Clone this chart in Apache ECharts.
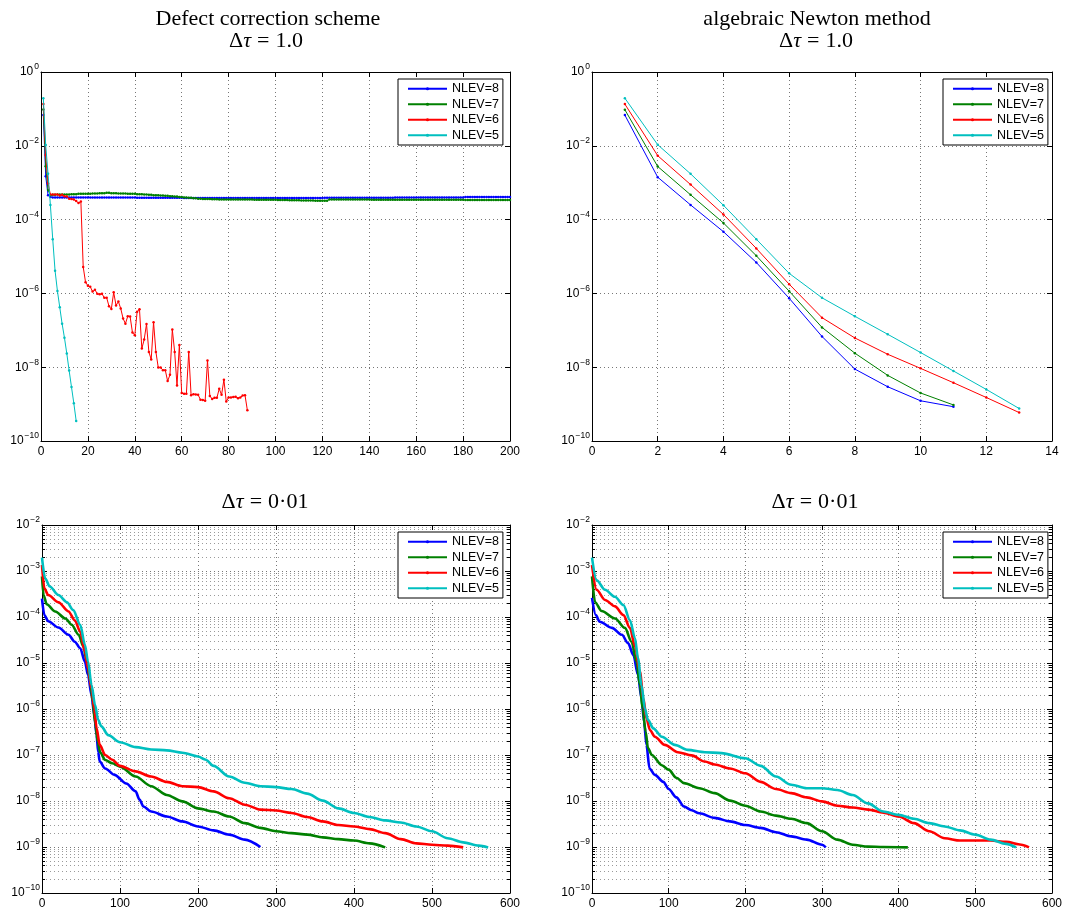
<!DOCTYPE html>
<html><head><meta charset="utf-8">
<script src="https://cdn.jsdelivr.net/npm/echarts@6/dist/echarts.min.js"></script>
<style>html,body{margin:0;padding:0;background:#fff}#c{width:1071px;height:911px}</style>
</head><body><div id="c"></div><script>
// ---------- names / colours ----------
const NAMES = ['NLEV=8', 'NLEV=7', 'NLEV=6', 'NLEV=5'];
const COLORS = ['#0000ff', '#008000', '#ff0000', '#00bfbf'];

// ---------- top-left: defect correction, dt = 1.0 (iteration 1..n) ----------
const tlBlue = [
6.8e-2,1.5e-3,4.6e-4,4.1e-4,4.0e-4,4.0e-4,4.0e-4,4.0e-4,4.0e-4,4.0e-4,
4.0e-4,4.0e-4,4.0e-4,4.0e-4,4.0e-4,4.0e-4,4.0e-4,4.0e-4,4.0e-4,4.0e-4,
3.95e-4,3.95e-4,3.95e-4,3.95e-4,3.95e-4,3.95e-4,3.95e-4,3.95e-4,3.95e-4,3.95e-4,
3.95e-4,3.95e-4,3.95e-4,3.95e-4,3.95e-4,3.95e-4,3.95e-4,3.95e-4,3.95e-4,3.95e-4,
3.9e-4,3.9e-4,3.9e-4,3.9e-4,3.9e-4,3.9e-4,3.9e-4,3.9e-4,3.9e-4,3.9e-4,
3.9e-4,3.9e-4,3.9e-4,3.9e-4,3.9e-4,3.9e-4,3.9e-4,3.9e-4,3.9e-4,3.9e-4,
3.85e-4,3.85e-4,3.85e-4,3.85e-4,3.85e-4,3.85e-4,3.85e-4,3.85e-4,3.85e-4,3.85e-4,
3.85e-4,3.85e-4,3.85e-4,3.85e-4,3.85e-4,3.85e-4,3.85e-4,3.85e-4,3.85e-4,3.85e-4,
3.85e-4,3.85e-4,3.85e-4,3.85e-4,3.85e-4,3.85e-4,3.85e-4,3.85e-4,3.85e-4,3.85e-4,
3.85e-4,3.85e-4,3.85e-4,3.85e-4,3.85e-4,3.85e-4,3.85e-4,3.85e-4,3.85e-4,3.85e-4,
3.85e-4,3.85e-4,3.85e-4,3.85e-4,3.85e-4,3.85e-4,3.85e-4,3.85e-4,3.85e-4,3.85e-4,
3.85e-4,3.85e-4,3.85e-4,3.85e-4,3.85e-4,3.85e-4,3.85e-4,3.85e-4,3.85e-4,3.85e-4,
3.9e-4,3.9e-4,3.9e-4,3.9e-4,3.9e-4,3.9e-4,3.9e-4,3.9e-4,3.9e-4,3.9e-4,
3.9e-4,3.9e-4,3.9e-4,3.9e-4,3.9e-4,3.9e-4,3.9e-4,3.9e-4,3.9e-4,3.9e-4,
3.9e-4,3.9e-4,3.9e-4,3.9e-4,3.9e-4,3.9e-4,3.9e-4,3.9e-4,3.9e-4,3.9e-4,
3.95e-4,3.95e-4,3.95e-4,3.95e-4,3.95e-4,3.95e-4,3.95e-4,3.95e-4,3.95e-4,3.95e-4,
4.0e-4,4.0e-4,4.0e-4,4.0e-4,4.0e-4,4.0e-4,4.0e-4,4.0e-4,4.0e-4,4.0e-4,
4.0e-4,4.0e-4,4.0e-4,4.0e-4,4.0e-4,4.0e-4,4.0e-4,4.0e-4,4.0e-4,4.0e-4,
4.1e-4,4.1e-4,4.1e-4,4.1e-4,4.1e-4,4.1e-4,4.1e-4,4.1e-4,4.1e-4,4.1e-4,
4.1e-4,4.1e-4,4.1e-4,4.1e-4,4.1e-4,4.1e-4,4.1e-4,4.1e-4,4.1e-4,4.1e-4
];
const tlGreen = [
9.7e-2,2.8e-3,6.3e-4,4.6e-4,4.7e-4,4.7e-4,4.8e-4,4.8e-4,4.8e-4,4.8e-4,
4.8e-4,4.8e-4,4.9e-4,4.9e-4,4.9e-4,5.0e-4,5.0e-4,5.0e-4,5.0e-4,5.0e-4,
5.0e-4,5.1e-4,5.1e-4,5.1e-4,5.2e-4,5.2e-4,5.2e-4,5.3e-4,5.3e-4,5.2e-4,
5.2e-4,5.2e-4,5.1e-4,5.1e-4,5.1e-4,5.1e-4,5.0e-4,5.0e-4,5.0e-4,5.0e-4,
4.9e-4,4.9e-4,4.9e-4,4.8e-4,4.8e-4,4.7e-4,4.7e-4,4.6e-4,4.6e-4,4.6e-4,
4.5e-4,4.5e-4,4.4e-4,4.4e-4,4.3e-4,4.3e-4,4.2e-4,4.2e-4,4.1e-4,4.1e-4,
4.0e-4,4.0e-4,3.9e-4,3.9e-4,3.8e-4,3.8e-4,3.7e-4,3.7e-4,3.6e-4,3.6e-4,
3.6e-4,3.6e-4,3.55e-4,3.55e-4,3.55e-4,3.5e-4,3.5e-4,3.5e-4,3.5e-4,3.5e-4,
3.5e-4,3.5e-4,3.5e-4,3.5e-4,3.5e-4,3.5e-4,3.5e-4,3.5e-4,3.5e-4,3.5e-4,
3.45e-4,3.45e-4,3.45e-4,3.45e-4,3.45e-4,3.45e-4,3.45e-4,3.45e-4,3.45e-4,3.45e-4,
3.4e-4,3.4e-4,3.4e-4,3.4e-4,3.4e-4,3.35e-4,3.35e-4,3.35e-4,3.35e-4,3.35e-4,
3.3e-4,3.3e-4,3.3e-4,3.3e-4,3.3e-4,3.3e-4,3.25e-4,3.25e-4,3.25e-4,3.25e-4,
3.25e-4,3.25e-4,3.5e-4,3.5e-4,3.5e-4,3.5e-4,3.5e-4,3.5e-4,3.5e-4,3.5e-4,
3.5e-4,3.5e-4,3.5e-4,3.5e-4,3.5e-4,3.5e-4,3.5e-4,3.5e-4,3.5e-4,3.5e-4,
3.45e-4,3.45e-4,3.45e-4,3.45e-4,3.45e-4,3.45e-4,3.45e-4,3.45e-4,3.45e-4,3.45e-4,
3.45e-4,3.45e-4,3.45e-4,3.45e-4,3.45e-4,3.45e-4,3.45e-4,3.45e-4,3.45e-4,3.45e-4,
3.45e-4,3.45e-4,3.45e-4,3.45e-4,3.45e-4,3.45e-4,3.45e-4,3.45e-4,3.45e-4,3.45e-4,
3.45e-4,3.45e-4,3.45e-4,3.45e-4,3.45e-4,3.45e-4,3.45e-4,3.45e-4,3.45e-4,3.45e-4,
3.4e-4,3.4e-4,3.4e-4,3.4e-4,3.4e-4,3.4e-4,3.4e-4,3.4e-4,3.4e-4,3.4e-4,
3.4e-4,3.4e-4,3.4e-4,3.4e-4,3.4e-4,3.4e-4,3.4e-4,3.4e-4,3.4e-4,3.4e-4
];
const tlRed = [
0.135,5.6e-3,9.5e-4,4.8e-4,4.8e-4,4.8e-4,4.8e-4,4.5e-4,4.7e-4,4.3e-4,
4.2e-4,3.7e-4,3.6e-4,3.5e-4,3.2e-4,2.8e-4,3.1e-4,5.2e-6,2.0e-6,1.62e-6,
1.51e-6,1.12e-6,1.26e-6,9.8e-7,9.5e-7,9.8e-7,7.6e-7,7.6e-7,4.5e-7,3.8e-7,
1.07e-6,4.7e-7,6.0e-7,3.9e-7,2.1e-7,1.51e-7,2.4e-7,2.35e-7,8.7e-8,7.4e-8,
3.2e-7,3.7e-7,3.2e-8,5.6e-8,1.48e-7,2.6e-8,1.62e-8,1.66e-7,2.6e-8,9.8e-9,
9.8e-9,8.3e-9,8.3e-9,4.2e-9,6.2e-9,1.05e-7,2.6e-8,3.2e-9,4.0e-8,2.0e-9,
1.9e-9,1.9e-9,2.6e-8,1.74e-9,1.86e-9,1.82e-9,1.78e-9,1.32e-9,1.29e-9,1.23e-9,
1.51e-8,1.66e-9,1.38e-9,1.48e-9,1.48e-9,2.6e-9,1.78e-9,4.6e-9,1.17e-9,1.51e-9,
1.51e-9,1.55e-9,1.58e-9,1.45e-9,1.51e-9,1.7e-9,1.74e-9,6.8e-10
];
const tlCyan = [0.195,1.05e-2,1.74e-3,2.5e-4,2.95e-5,4.1e-6,1.17e-6,4.2e-7,1.51e-7,6.3e-8,2.35e-8,8.1e-9,2.9e-9,1.05e-9,3.5e-10];

// ---------- top-right: algebraic Newton method, dt = 1.0 ----------
const trBlue  = [0.068,1.41e-3,2.5e-4,4.7e-5,6.9e-6,7.4e-7,6.8e-8,8.9e-9,2.95e-9,1.23e-9,8.5e-10];
const trGreen = [0.095,2.75e-3,4.7e-4,8.1e-5,1.05e-5,1.15e-6,1.2e-7,2.4e-8,6.0e-9,2.0e-9,9.5e-10];
const trRed   = [0.135,5.4e-3,8.9e-4,1.38e-4,1.66e-5,1.78e-6,2.2e-7,6.2e-8,2.24e-8,9.3e-9,3.8e-9,1.51e-9,5.9e-10];
const trCyan  = [0.195,1.07e-2,1.74e-3,2.45e-4,2.95e-5,3.5e-6,7.6e-7,2.4e-7,7.8e-8,2.5e-8,7.9e-9,2.5e-9,7.6e-10];

// ---------- bottom-left: defect correction, dt = 0.01 ----------
const blBlueX = [0,3,8,21,34,42,49,55,59,63.5,67,70,72,74,81,93,108,120,125,130,140,160,180,200,220,240,260,280];
const blBlueY = [2.5e-4,1.1e-4,8.1e-5,5.9e-5,4.1e-5,2.9e-5,2.1e-5,1.07e-5,5.5e-6,2.0e-6,7.4e-7,2.7e-7,1.17e-7,7.2e-8,5.1e-8,3.7e-8,2.4e-8,1.62e-8,1.07e-8,7.6e-9,5.9e-9,4.6e-9,3.6e-9,2.8e-9,2.3e-9,1.86e-9,1.45e-9,1.0e-9];
const blGreenX = [0,2,6,17,30,38,47,53,57.5,62,65,68,71.5,74.5,81,90,100,120,140,160,180,200,220,240,260,280,300,320,340,360,380,400,420,440];
const blGreenY = [7.6e-4,3.0e-4,1.9e-4,1.32e-4,9.3e-5,6.8e-5,4.1e-5,2.3e-5,1.07e-5,3.9e-6,1.45e-6,5.2e-7,1.95e-7,1.15e-7,7.8e-8,6.6e-8,5.6e-8,3.4e-8,2.1e-8,1.35e-8,9.8e-9,6.9e-9,5.9e-9,4.6e-9,3.3e-9,2.6e-9,2.2e-9,2.0e-9,1.86e-9,1.62e-9,1.48e-9,1.38e-9,1.2e-9,9.8e-10];
const blRedX = [0,3,8,21,34,42,49,55,59,63.5,67,70,74,81,90,100,120,140,160,180,200,220,240,260,280,300,320,340,360,380,400,420,440,460,480,500,520,540];
const blRedY = [1.35e-3,4.2e-4,3.0e-4,2.1e-4,1.32e-4,8.5e-5,4.8e-5,1.78e-5,7.6e-6,2.8e-6,1.02e-6,3.8e-7,1.66e-7,1.0e-7,7.9e-8,5.8e-8,4.4e-8,3.4e-8,2.6e-8,2.1e-8,2.0e-8,1.62e-8,1.15e-8,8.3e-9,6.5e-9,6.2e-9,5.5e-9,4.5e-9,3.6e-9,3.0e-9,2.8e-9,2.45e-9,2.0e-9,1.48e-9,1.2e-9,1.12e-9,1.07e-9,9.8e-10];
const blCyanX = [0,4,10,21,32,40,49,55,59,63.5,68,72,76,85,100,120,140,160,180,200,210,220,240,260,280,300,320,340,360,380,400,420,440,460,480,500,520,540,560,572];
const blCyanY = [1.95e-3,6.9e-4,4.6e-4,3.0e-4,2.1e-4,1.41e-4,6.8e-5,2.5e-5,1.07e-5,3.3e-6,1.23e-6,5.8e-7,4.2e-7,2.7e-7,1.9e-7,1.48e-7,1.32e-7,1.26e-7,1.12e-7,9.3e-8,7.9e-8,5.8e-8,3.4e-8,2.5e-8,2.1e-8,2.0e-8,1.82e-8,1.45e-8,1.02e-8,6.9e-9,5.5e-9,4.5e-9,3.8e-9,3.4e-9,2.8e-9,2.2e-9,1.55e-9,1.26e-9,1.07e-9,9.8e-10];

// ---------- bottom-right: algebraic Newton method, dt = 0.01 ----------
const brBlueX = [0,5,10,26,39,47,54,60,64.5,68,71,75,82,93,100,110,120,130,140,160,180,200,220,240,260,280,300,305];
const brBlueY = [2.6e-4,1.1e-4,7.9e-5,5.8e-5,4.1e-5,2.7e-5,1.48e-5,5.5e-6,1.7e-6,5.2e-7,1.66e-7,5.1e-8,3.7e-8,2.6e-8,1.82e-8,1.2e-8,7.6e-9,6.3e-9,5.4e-9,4.3e-9,3.6e-9,3.0e-9,2.6e-9,2.1e-9,1.7e-9,1.45e-9,1.12e-9,9.8e-10];
const brGreenX = [0,4,12.5,30,43,51.6,58,62.5,66,70,73,78,91,100,110,120,140,160,180,200,220,240,260,280,300,320,340,360,380,412];
const brGreenY = [7.6e-4,2.1e-4,1.35e-4,9.3e-5,5.8e-5,2.9e-5,1.07e-5,3.3e-6,1.02e-6,3.2e-7,1.41e-7,1.0e-7,6.0e-8,4.8e-8,3.2e-8,2.45e-8,1.9e-8,1.48e-8,1.02e-8,7.9e-9,5.9e-9,4.8e-9,4.1e-9,3.3e-9,2.2e-9,1.45e-9,1.12e-9,1.02e-9,1.0e-9,9.8e-10];
const brRedX = [0,6,17,30,41,49.5,56,62.5,67,71,75.5,82,95,112,130,147,160,180,200,220,240,260,280,300,320,340,360,380,400,420,440,460,480,500,520,540,560,570];
const brRedY = [1.35e-3,3.9e-4,2.35e-4,1.7e-4,1.1e-4,5.8e-5,2.3e-5,6.5e-6,1.7e-6,6.3e-7,3.5e-7,2.5e-7,1.66e-7,1.15e-7,9.8e-8,7.2e-8,6.2e-8,5.1e-8,4.0e-8,2.6e-8,1.82e-8,1.48e-8,1.2e-8,9.8e-9,7.9e-9,7.2e-9,6.5e-9,5.6e-9,4.6e-9,3.3e-9,2.2e-9,1.55e-9,1.38e-9,1.38e-9,1.38e-9,1.29e-9,1.12e-9,9.8e-10];
const brCyanX = [0,6,17,30,41,49.5,56,60,64.5,69,73,80,91,108,125,147,169,200,220,240,260,280,300,320,340,360,380,400,420,440,460,480,500,520,540,553];
const brCyanY = [1.95e-3,6.3e-4,3.9e-4,2.75e-4,1.82e-4,8.5e-5,3.5e-5,1.26e-5,3.3e-6,1.02e-6,5.8e-7,3.8e-7,2.5e-7,1.66e-7,1.29e-7,1.15e-7,1.1e-7,8.5e-8,5.8e-8,3.4e-8,2.25e-8,1.9e-8,1.9e-8,1.74e-8,1.35e-8,8.9e-9,5.9e-9,5.0e-9,4.1e-9,3.3e-9,2.8e-9,2.3e-9,1.86e-9,1.45e-9,1.17e-9,9.8e-10];

// ---------- titles ----------
const TITLES = ['Defect correction scheme', 'algebraic Newton method'];
const DT_TOP = '1.0';
const DT_BOTTOM = '0·01';

// ---------- build ----------
const SANS = 'Liberation Sans, Arial, sans-serif';
const SERIF = 'Liberation Serif, Times New Roman, serif';

const grids = [
  {left: 41, top: 72, width: 469, height: 369},
  {left: 592, top: 72, width: 460, height: 369},
  {left: 42, top: 525, width: 468, height: 368},
  {left: 592, top: 525, width: 460, height: 368}
];

function logLabel(v) {
  const e = Math.round(Math.log10(v));
  return '{b|10}{s|' + (e < 0 ? '\u2212' : '') + Math.abs(e) + '}';
}
const labelRich = {
  b: {fontFamily: SANS, fontSize: 12, color: '#000', lineHeight: 13, verticalAlign: 'middle'},
  s: {fontFamily: SANS, fontSize: 8.5, color: '#000', lineHeight: 9, padding: [0, 0, 10, 1], verticalAlign: 'middle'}
};

function mkX(gi, min, max, interval, pos) {
  const main = pos === 'bottom';
  return {
    type: 'value', gridIndex: gi, position: pos, min: min, max: max, interval: interval,
    axisLine: {show: true, onZero: false, lineStyle: {color: '#000', width: 1}},
    axisTick: {show: true, inside: true, length: 5, lineStyle: {color: '#000'}},
    axisLabel: {show: main, color: '#000', fontFamily: SANS, fontSize: 12, margin: 5, showMinLabel: true, showMaxLabel: true},
    splitLine: {show: main, lineStyle: {color: '#777', type: [1, 3], width: 1}}
  };
}
function mkY(gi, min, max, interval, pos, minor) {
  const main = pos === 'left';
  return {
    type: 'log', logBase: 10, gridIndex: gi, position: pos, min: min, max: max, interval: interval,
    axisLine: {show: true, onZero: false, lineStyle: {color: '#000', width: 1}},
    axisTick: {show: true, inside: true, length: 5, lineStyle: {color: '#000'}},
    minorTick: {show: minor, splitNumber: 9, length: 3, lineStyle: {color: '#000'}},
    axisLabel: {show: main, formatter: logLabel, rich: labelRich, margin: 2, showMinLabel: true, showMaxLabel: true},
    splitLine: {show: main, lineStyle: {color: '#777', type: [1, 3], width: 1}},
    minorSplitLine: {show: minor && main, lineStyle: {color: '#9a9a9a', type: [1, 3], width: 1}}
  };
}

const xAxis = [
  mkX(0, 0, 200, 20, 'bottom'), mkX(0, 0, 200, 20, 'top'),
  mkX(1, 0, 14, 2, 'bottom'), mkX(1, 0, 14, 2, 'top'),
  mkX(2, 0, 600, 100, 'bottom'), mkX(2, 0, 600, 100, 'top'),
  mkX(3, 0, 600, 100, 'bottom'), mkX(3, 0, 600, 100, 'top')
];
const yAxis = [
  mkY(0, 1e-10, 1, 2, 'left', false), mkY(0, 1e-10, 1, 2, 'right', false),
  mkY(1, 1e-10, 1, 2, 'left', false), mkY(1, 1e-10, 1, 2, 'right', false),
  mkY(2, 1e-10, 1e-2, 1, 'left', true), mkY(2, 1e-10, 1e-2, 1, 'right', true),
  mkY(3, 1e-10, 1e-2, 1, 'left', true), mkY(3, 1e-10, 1e-2, 1, 'right', true)
];

const series = [];
function addIter(gi, arrays) {
  arrays.forEach(function (arr, k) {
    series.push({
      name: NAMES[k], type: 'line', xAxisIndex: 2 * gi, yAxisIndex: 2 * gi,
      data: arr.map(function (v, i) { return [i + 1, v]; }),
      symbol: 'circle', symbolSize: 2.5, showAllSymbol: true,
      lineStyle: {width: 1, color: COLORS[k]}, itemStyle: {color: COLORS[k]},
      animation: false, silent: true, z: 2 + k
    });
  });
}
function addXY(gi, pairs) {
  pairs.forEach(function (p, k) {
    series.push({
      name: NAMES[k], type: 'line', xAxisIndex: 2 * gi, yAxisIndex: 2 * gi,
      data: p[0].map(function (x, i) { return [x, p[1][i]]; }),
      showSymbol: false, symbol: 'circle', smooth: 0.3, smoothMonotone: 'x',
      lineStyle: {width: 2.6, color: COLORS[k]}, itemStyle: {color: COLORS[k]},
      animation: false, silent: true, z: 2 + k
    });
  });
}
addIter(0, [tlBlue, tlGreen, tlRed, tlCyan]);
addIter(1, [trBlue, trGreen, trRed, trCyan]);
addXY(2, [[blBlueX, blBlueY], [blGreenX, blGreenY], [blRedX, blRedY], [blCyanX, blCyanY]]);
addXY(3, [[brBlueX, brBlueY], [brGreenX, brGreenY], [brRedX, brRedY], [brCyanX, brCyanY]]);

function mkLegend(left, top) {
  return {
    show: true, data: NAMES, left: left, top: top, orient: 'vertical', selectedMode: false,
    backgroundColor: '#fff', borderColor: '#000', borderWidth: 1, borderRadius: 0,
    padding: [2, 4, 2, 9], itemGap: 0, itemWidth: 39, itemHeight: 4,
    textStyle: {fontFamily: SANS, fontSize: 12.5, color: '#000', lineHeight: 15.5}
  };
}

const dtRich = {
  r: {fontFamily: SERIF, fontSize: 22, fontWeight: 'normal', color: '#000'},
  i: {fontFamily: SERIF, fontSize: 22, fontWeight: 'normal', fontStyle: 'italic', color: '#000'},
  e: {fontFamily: SERIF, fontSize: 22, fontWeight: 'normal', color: '#000', padding: [0, 6, 0, 6]}
};
function dtText(v) { return '{r|\u0394}{i|\u03c4}{e|=}{r|' + v + '}'; }
function mkTitle(text, x, y, rich) {
  return {
    text: text, left: x, top: y, textAlign: 'center', padding: 0,
    textStyle: rich ? {fontWeight: 'normal', rich: dtRich} : {fontFamily: SERIF, fontSize: 22, fontWeight: 'normal', color: '#000'}
  };
}

const option = {
  backgroundColor: '#fff',
  animation: false,
  title: [
    mkTitle(TITLES[0], 268, 8, false),
    mkTitle(dtText(DT_TOP), 266, 30, true),
    mkTitle(TITLES[1], 817, 8, false),
    mkTitle(dtText(DT_TOP), 816, 30, true),
    mkTitle(dtText(DT_BOTTOM), 265, 491, true),
    mkTitle(dtText(DT_BOTTOM), 815, 491, true)
  ],
  grid: grids,
  xAxis: xAxis,
  yAxis: yAxis,
  legend: [mkLegend(398, 79), mkLegend(943, 79), mkLegend(398, 532), mkLegend(943, 532)],
  series: series
};

const chart = echarts.init(document.getElementById('c'), null, {renderer: 'canvas'});
chart.setOption(option);
</script></body></html>
